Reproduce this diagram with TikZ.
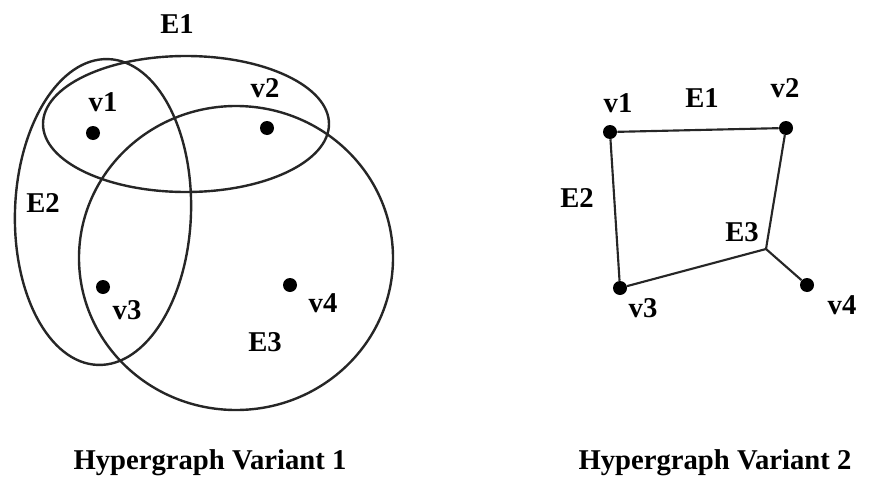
\documentclass[tikz,border=0pt]{standalone}
\usepackage{fontspec}
\setmainfont{Liberation Serif}
\usepackage{xcolor}
\definecolor{inkgray}{HTML}{262626}

\tikzset{
  dot/.style={circle, fill=black, inner sep=0, minimum size=10.5pt},
  lbl/.style={font=\fontsize{21.5}{25}\selectfont\bfseries, inner sep=0, text=black},
  ring/.style={draw=inkgray, line width=1.8pt},
  link/.style={draw=inkgray, line width=1.6pt}
}

\begin{document}
\begin{tikzpicture}[x=0.75pt, y=-0.75pt]
\useasboundingbox (0,0) rectangle (872,482);

% ---------- Variant 1 ----------
% Hyperedges as closed curves
\draw[ring] (186,124) ellipse [x radius=143, y radius=68];
\draw[ring, rotate around={-2:(103,212)}] (103,212) ellipse [x radius=88, y radius=153];
\draw[ring] (236,258) ellipse [x radius=157, y radius=152];

% Vertices
\node[dot] (a1) at (93,133) {};
\node[dot] (a2) at (267,128) {};
\node[dot] (a3) at (103,287) {};
\node[dot] (a4) at (290,285) {};

% Labels
\node[lbl] (ae1) at (177,24) {E1};
\node[lbl] (av1) at (103,102) {v1};
\node[lbl] (av2) at (265,88) {v2};
\node[lbl] (ae2) at (43,203) {E2};
\node[lbl] (av3) at (127,310) {v3};
\node[lbl] (av4) at (323,303) {v4};
\node[lbl] (ae3) at (265,342) {E3};

% ---------- Variant 2 ----------
% Vertices
\node[dot] (b1) at (610,132) {};
\node[dot] (b2) at (786,128) {};
\node[dot] (b3) at (620,288) {};
\node[dot] (b4) at (807,285) {};
\coordinate (hub) at (766,249);

% Edges
\draw[link] (b1) -- (b2);
\draw[link] (b1) -- (b3);
\draw[link] (b3) -- (hub);
\draw[link] (hub) -- (b2);
\draw[link] (hub) -- (b4);

% Labels
\node[lbl] (bv1) at (618,103) {v1};
\node[lbl] (be1) at (702,98) {E1};
\node[lbl] (bv2) at (785,88) {v2};
\node[lbl] (be2) at (577,198) {E2};
\node[lbl] (be3) at (742,232) {E3};
\node[lbl] (bv3) at (643,308) {v3};
\node[lbl] (bv4) at (842,305) {v4};

% ---------- Captions ----------
\node[lbl] (cap1) at (210,463) {Hypergraph Variant 1};
\node[lbl] (cap2) at (715,463) {Hypergraph Variant 2};

\end{tikzpicture}
\end{document}
